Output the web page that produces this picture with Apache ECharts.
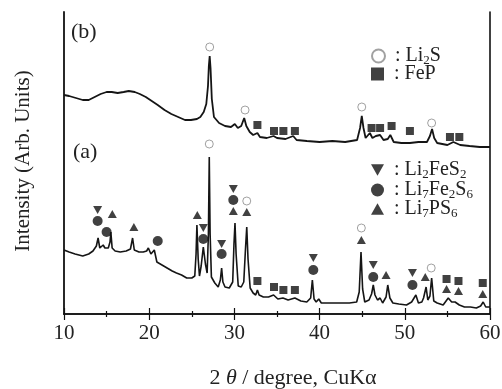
<!DOCTYPE html>
<html>
<head>
<meta charset="utf-8">
<script src="https://cdn.jsdelivr.net/npm/echarts@6/dist/echarts.min.js"></script>
<style>
html, body { margin: 0; padding: 0; background: #fff; }
#chart { width: 502px; height: 389px; }
</style>
</head>
<body>
<div id="chart"></div>
<script>
// XRD patterns, [2theta, intensity (arb.)]
const patternB = [
  [10.0, 219], [10.6, 218], [11.4, 216], [12.2, 214], [12.9, 214], [13.6, 217],
  [14.3, 220], [15.0, 222], [15.6, 222], [16.3, 221], [17.0, 222], [17.6, 223],
  [18.3, 222], [18.9, 220], [19.6, 217], [20.3, 213], [21.0, 209], [21.8, 204],
  [22.6, 200], [23.4, 197], [24.2, 194], [24.9, 194], [25.6, 195], [26.0, 197],
  [26.4, 202], [26.7, 210], [26.9, 228], [27.0, 248], [27.1, 258], [27.2, 246],
  [27.35, 215], [27.6, 197], [28.2, 191], [28.9, 188], [29.6, 187], [30.05, 190],
  [30.4, 186], [30.8, 188], [31.15, 196], [31.4, 188], [31.8, 182], [32.2, 179],
  [32.7, 181], [33.0, 177], [33.8, 176], [34.6, 178], [35.0, 176], [36.0, 175],
  [36.9, 178], [37.3, 174], [38.5, 173], [40.0, 172], [41.5, 173], [43.0, 172],
  [44.4, 174], [44.75, 186], [44.95, 198], [45.15, 186], [45.4, 176], [45.9, 181],
  [46.2, 176], [46.6, 178], [47.1, 179], [47.5, 174], [48.0, 175], [48.3, 179],
  [48.7, 172], [49.6, 171], [50.6, 171], [51.6, 172], [52.6, 172], [52.95, 178],
  [53.2, 185], [53.45, 176], [53.8, 171], [55.0, 169], [55.7, 172], [56.5, 169],
  [57.6, 168], [58.8, 167], [60.0, 167]
];

const patternA = [
  [10.0, 64], [10.6, 62], [11.3, 60], [12.2, 58], [12.9, 60], [13.4, 63],
  [13.8, 68], [14.0, 76], [14.2, 66], [14.4, 65], [14.6, 69], [14.8, 66],
  [15.2, 66], [15.4, 72], [15.5, 82], [15.65, 66], [16.0, 63], [16.6, 62],
  [17.3, 63], [17.8, 65], [18.05, 76], [18.25, 64], [18.8, 62], [19.3, 62],
  [19.7, 63], [19.9, 66], [20.2, 60], [20.6, 64], [20.9, 52], [21.5, 49],
  [22.1, 46], [22.7, 43], [23.2, 41], [23.8, 39], [24.4, 36], [25.0, 36],
  [25.35, 38], [25.5, 60], [25.6, 89], [25.75, 55], [25.9, 38], [26.1, 48],
  [26.35, 67], [26.6, 50], [26.8, 41], [26.95, 80], [27.05, 157], [27.15, 80],
  [27.3, 37], [27.7, 31], [28.1, 27], [28.35, 34], [28.5, 46], [28.65, 32],
  [28.9, 27], [29.4, 26], [29.8, 32], [29.95, 70], [30.07, 91], [30.2, 60],
  [30.45, 28], [30.8, 27], [31.1, 32], [31.3, 65], [31.45, 87], [31.6, 55],
  [31.85, 26], [32.2, 21], [32.5, 19], [32.7, 24], [32.9, 19], [33.4, 17],
  [34.0, 17], [34.6, 19], [35.1, 15], [35.7, 16], [36.3, 14], [37.1, 16],
  [37.8, 13], [38.5, 12], [38.95, 16], [39.15, 34], [39.35, 15], [39.6, 12],
  [39.9, 15], [40.2, 11], [41.0, 11], [42.4, 11], [43.5, 11], [44.35, 12],
  [44.65, 22], [44.86, 62], [45.05, 25], [45.3, 12], [45.8, 14], [46.1, 20],
  [46.3, 29], [46.5, 19], [46.8, 14], [47.1, 16], [47.4, 11], [47.8, 17],
  [48.0, 29], [48.25, 16], [48.6, 11], [49.3, 10], [50.2, 9], [50.8, 12],
  [51.3, 19], [51.6, 11], [52.0, 12], [52.2, 16], [52.5, 27], [52.7, 14],
  [52.95, 18], [53.15, 36], [53.4, 13], [53.8, 11], [54.5, 9], [55.1, 16],
  [55.5, 12], [55.9, 12], [56.4, 9], [57.0, 7], [57.7, 7], [58.4, 6],
  [58.9, 8], [59.2, 12], [59.5, 7], [60.0, 7]
];

// phase markers, [2theta, height]
const li2sMarks = [
  [27.1, 267], [31.25, 204], [44.95, 207], [53.15, 191],
  [27.05, 170], [31.45, 113], [44.9, 86], [53.1, 46]
];
const fepMarks = [
  [32.7, 189], [34.65, 183], [35.75, 183], [37.1, 183], [46.1, 186], [47.1, 186],
  [48.45, 188], [50.6, 183], [55.3, 177], [56.4, 177],
  [32.7, 33], [34.65, 27], [35.75, 24], [37.1, 24], [54.9, 35], [56.3, 33], [59.15, 31]
];
const li2fes2Marks = [
  [13.95, 104], [26.35, 86], [28.5, 70], [29.87, 125], [39.26, 56], [46.3, 49], [50.9, 41]
];
const li7fe2s6Marks = [
  [13.95, 93], [15.0, 82], [21.0, 73], [26.35, 75], [28.5, 60], [29.87, 114],
  [39.26, 44], [46.3, 37], [50.9, 29]
];
const li7ps6Marks = [
  [15.67, 100], [18.2, 87], [25.65, 99], [29.87, 103], [31.45, 102], [44.9, 74],
  [47.8, 39], [52.4, 37], [54.9, 25], [56.3, 23], [59.15, 20]
];

const serif = '"Liberation Serif", "DejaVu Serif", serif';
const invTri = 'path://M0,0L10,0L5,9Z';
const upTri = 'path://M5,0L10,9L0,9Z';

const legendLabels = {
  Li2S: ': Li{s|2}S',
  FeP: ': FeP',
  Li2FeS2: ': Li{s|2}FeS{s|2}',
  Li7Fe2S6: ': Li{s|7}Fe{s|2}S{s|6}',
  Li7PS6: ': Li{s|7}PS{s|6}'
};
const legendTops = { Li2S: 46, FeP: 64, Li2FeS2: 160, Li7Fe2S6: 180, Li7PS6: 199 };

const legendText = {
  fontFamily: serif, fontSize: 20, color: '#222', padding: [0, 0, 0, 5],
  rich: { s: { fontFamily: serif, fontSize: 13, color: '#222', padding: [9, 0, 0, 0] } }
};

const chart = echarts.init(document.getElementById('chart'));

function markSeries(name, data, symbol, size, style) {
  return {
    name: name, type: 'scatter', data: data, symbol: symbol, symbolSize: size,
    itemStyle: style, z: 5, silent: true
  };
}

const legends = Object.keys(legendLabels).map(n => ({
  data: [n], left: 371, top: legendTops[n], orient: 'vertical',
  itemWidth: 13, itemHeight: 13, itemGap: 0, padding: 0,
  formatter: k => legendLabels[k], textStyle: legendText, selectedMode: false
}));

chart.setOption({
  animation: false,
  grid: { left: 64, right: 12, top: 12, bottom: 75, show: false, outerBoundsMode: 'none', containLabel: false },
  legend: legends,
  xAxis: [
    {
      type: 'value', min: 10, max: 60, interval: 10, position: 'bottom',
      name: '2 {i|θ} / degree, CuKα', nameLocation: 'middle', nameGap: 53,
      nameTextStyle: {
        fontFamily: serif, fontSize: 22, color: '#222', padding: [0, 0, 0, 32],
        rich: { i: { fontFamily: serif, fontSize: 22, fontStyle: 'italic', color: '#222' } }
      },
      axisLine: { lineStyle: { color: '#111', width: 1.6 } },
      axisTick: { inside: true, length: 6, lineStyle: { color: '#111', width: 1.2 } },
      minorTick: { show: true, splitNumber: 2, length: 3, lineStyle: { color: '#111', width: 1.2 } },
      axisLabel: { fontFamily: serif, fontSize: 21, color: '#222', margin: 9 },
      splitLine: { show: false }
    },
    {
      type: 'value', min: 10, max: 60, interval: 10, position: 'top',
      axisLine: { lineStyle: { color: '#111', width: 1.6 } },
      axisTick: { inside: true, length: 6, lineStyle: { color: '#111', width: 1.2 } },
      minorTick: { show: true, splitNumber: 2, length: 3, lineStyle: { color: '#111', width: 1.2 } },
      axisLabel: { show: false },
      splitLine: { show: false }
    }
  ],
  yAxis: [
    {
      type: 'value', min: 0, max: 302, position: 'left',
      name: 'Intensity (Arb. Units)', nameLocation: 'middle', nameGap: 30,
      nameTextStyle: { fontFamily: serif, fontSize: 21, color: '#222', padding: [0, 0, 0, 4] },
      axisLine: { show: true, lineStyle: { color: '#111', width: 1.8 } },
      axisTick: { show: false }, axisLabel: { show: false }, splitLine: { show: false }
    },
    {
      type: 'value', min: 0, max: 302, position: 'right',
      axisLine: { show: true, lineStyle: { color: '#111', width: 1.6 } },
      axisTick: { show: false }, axisLabel: { show: false }, splitLine: { show: false }
    }
  ],
  graphic: [
    { type: 'text', left: 71, top: 21, style: { text: '(b)', font: '22px ' + serif, fill: '#222' } },
    { type: 'text', left: 73, top: 141, style: { text: '(a)', font: '22px ' + serif, fill: '#222' } }
  ],
  series: [
    {
      name: 'b', type: 'line', data: patternB, showSymbol: false, silent: true,
      lineStyle: { color: '#151515', width: 1.8 }, z: 2
    },
    {
      name: 'a', type: 'line', data: patternA, showSymbol: false, silent: true,
      lineStyle: { color: '#151515', width: 1.6 }, z: 2
    },
    markSeries('Li2S', li2sMarks, 'circle', 8, { color: '#fff', borderColor: '#8a8a8a', borderWidth: 1 }),
    markSeries('FeP', fepMarks, 'rect', 8, { color: '#111' }),
    markSeries('Li2FeS2', li2fes2Marks, invTri, [9, 8], { color: '#111' }),
    markSeries('Li7Fe2S6', li7fe2s6Marks, 'circle', 10, { color: '#111' }),
    markSeries('Li7PS6', li7ps6Marks, upTri, [9, 8], { color: '#111' })
  ]
});
</script>
</body>
</html>
